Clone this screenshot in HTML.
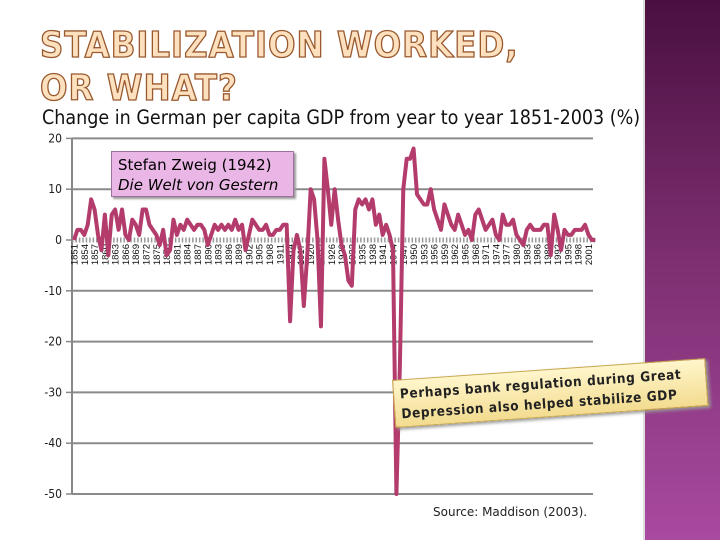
<!DOCTYPE html>
<html><head><meta charset="utf-8"><style>
body{margin:0;width:720px;height:540px;overflow:hidden;background:#fff;position:relative;font-family:"Liberation Sans","DejaVu Sans",sans-serif}
#panel{position:absolute;left:643px;top:0;width:77px;height:540px;background:linear-gradient(#4a1040,#7a2d6e 45%,#a94aa0 100%);border-left:2px solid #ddd}
.title{position:absolute;left:40px;font:bold 36px "DejaVu Sans Condensed","Liberation Sans",sans-serif;letter-spacing:1px;color:#fde0bd;-webkit-text-stroke:1.3px #9a5a30;white-space:nowrap}
#sub{position:absolute;left:42px;top:106px;font-size:19.5px;color:#111;font-family:"DejaVu Sans Condensed","Liberation Sans",sans-serif;white-space:nowrap}
#zweig{position:absolute;left:111px;top:151px;width:183px;height:46px;background:#eab6e6;border:1px solid #a070a0;box-shadow:2px 2px 2px #999;font-size:15px;padding:3px 0 0 6px;box-sizing:border-box;line-height:20px;font-family:"DejaVu Sans","Liberation Sans",sans-serif}
#note{position:absolute;left:392px;top:380px;width:314px;height:48px;background:linear-gradient(#fff6cc,#f3dc90);border:1px solid #c9a84a;box-shadow:2px 2px 3px #999;transform:rotate(-4deg);transform-origin:left top;font:bold 13.5px "DejaVu Sans Condensed","Liberation Sans",sans-serif;color:#222;padding:4px 0 0 6px;box-sizing:border-box;line-height:20px;letter-spacing:0.6px;white-space:nowrap}
#src{position:absolute;left:433px;top:505px;font-size:12px;color:#222;font-family:"DejaVu Sans","Liberation Sans",sans-serif}
svg{position:absolute;left:0;top:0}
</style></head><body>
<div id="panel"></div>
<div class="title" style="top:25px">STABILIZATION WORKED,</div>
<div class="title" style="top:68px">OR WHAT?</div>
<div id="sub">Change in German per capita GDP from year to year 1851-2003 (%)</div>
<svg id="chart" width="720" height="540"></svg>
<div id="zweig">Stefan Zweig (1942)<br><i>Die Welt von Gestern</i></div>
<div id="note">Perhaps bank regulation during Great<br>Depression also helped stabilize GDP</div>
<div id="src">Source: Maddison (2003).</div>
<script>
const startYear=1851;
const yTicks=[20,10,0,-10,-20,-30,-40,-50];
const growth=[0,2,2,1,3,8,6,1,-2,5,
-3,5,6,2,6,1,0,4,3,1,
6,6,3,2,1,-1,2,-3,-2,4,
1,3,2,4,3,2,3,3,2,-1,
1,3,2,3,2,3,2,4,2,3,
-2,1,4,3,2,2,3,1,1,2,
2,3,3,
-16,-2,1,-2,-13,-3,10,
8,0,-17,16,10,3,10,4,-1,-3,
-8,-9,6,8,7,8,6,8,3,5,
1,3,1,-2,-50,-25,10,16,16,18,
9,8,7,7,10,6,4,2,7,5,
3,2,5,3,1,2,0,5,6,4,
2,3,4,1,0,5,3,3,4,1,
0,-1,2,3,2,2,2,3,3,-3,
5,2,-2,2,1,1,2,2,2,3,
1,0,0];
const NS="http://www.w3.org/2000/svg";
const svg=document.getElementById('chart');
const X=i=>74+i*3.43;
const Y=v=>240-v*5.08;
function mk(t,a){const e=document.createElementNS(NS,t);for(const k in a)e.setAttribute(k,a[k]);svg.appendChild(e);return e;}
yTicks.forEach(v=>{
 if(v!==0){const g=mk('line',{x1:72,x2:593,y1:Y(v),y2:Y(v),stroke:'#8a8a8a','stroke-width':2});
 
 }
 const tk=mk('line',{x1:66,x2:72,y1:Y(v),y2:Y(v),stroke:'#888','stroke-width':1.5});
 
 
 const t=mk('text',{x:62,y:Y(v)+4,'text-anchor':'end','font-size':12,fill:'#222','font-family':'DejaVu Sans Condensed, Liberation Sans, sans-serif'});
 t.textContent=v;
 
 
});
const ax=mk('line',{x1:72,x2:72,y1:Y(20),y2:Y(-50),stroke:'#888','stroke-width':2});


const zx=mk('line',{x1:72,x2:596,y1:Y(0),y2:Y(0),stroke:'#999','stroke-width':5,'stroke-dasharray':'1.5 1.93'});


for(let i=0;i<growth.length;i+=3){
 const x=X(i)+3.5,y=Y(0)+4;
 const t=mk('text',{x:x,y:y,'text-anchor':'end','font-size':9.5,fill:'#111','font-family':'Liberation Sans Narrow, Liberation Sans, sans-serif',transform:`rotate(-90 ${x} ${y})`});
 t.textContent=startYear+i;
 
 
}
const p=mk('polyline',{points:growth.map((v,i)=>X(i)+','+Y(v)).join(' '),fill:'none',stroke:'#b33c6c','stroke-width':4,'stroke-linejoin':'round'});


</script>
</body></html>
